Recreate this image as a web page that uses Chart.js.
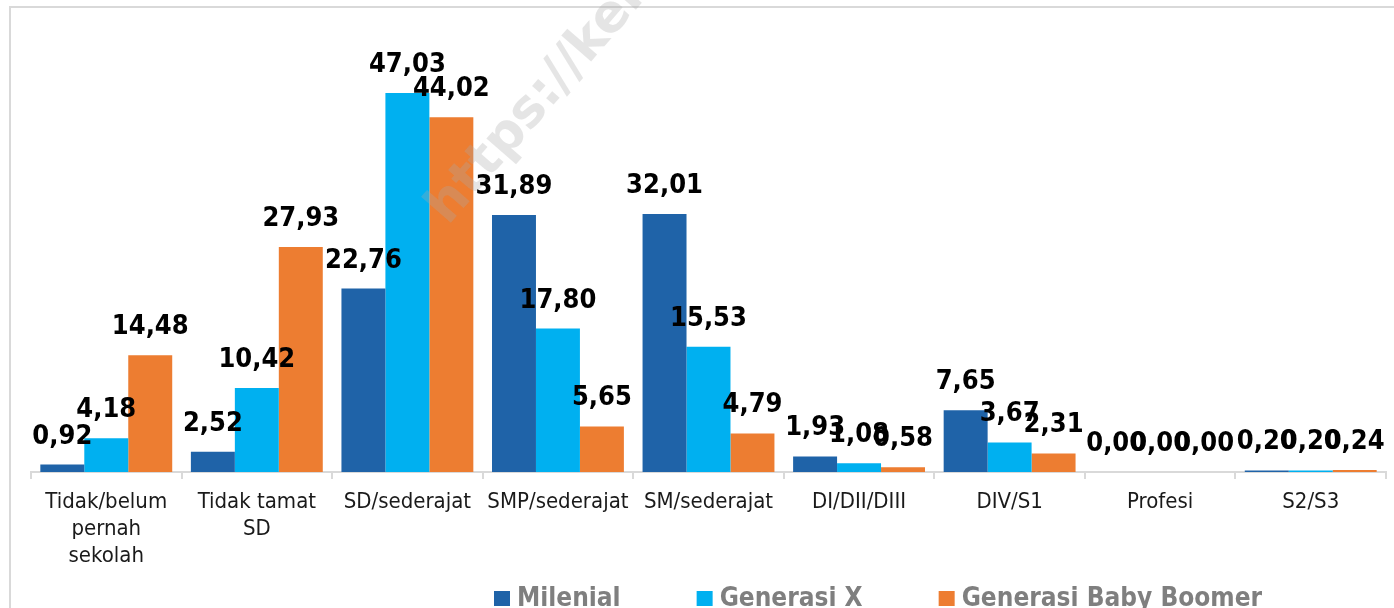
<!DOCTYPE html>
<html>
<head>
<meta charset="utf-8">
<script src="https://cdn.jsdelivr.net/npm/chart.js@4.4.1/dist/chart.umd.min.js"></script>
<style>
  body { margin: 0; background: #fff; }
  #wrap { width: 1394px; height: 608px; position: relative; }
</style>
</head>
<body>
<div id="wrap"><canvas id="eduChart"></canvas></div>
<script>
// categories and values (persen)
const categories = [['Tidak/belum', 'pernah', 'sekolah'], ['Tidak tamat', 'SD'], 'SD/sederajat', 'SMP/sederajat',
  'SM/sederajat', 'DI/DII/DIII', 'DIV/S1', 'Profesi', 'S2/S3'];
const milenial = [0.92, 2.52, 22.76, 31.89, 32.01, 1.93, 7.65, 0.00, 0.20];
const generasiX = [4.18, 10.42, 47.03, 17.80, 15.53, 1.08, 3.67, 0.00, 0.20];
const babyBoomer = [14.48, 27.93, 44.02, 5.65, 4.79, 0.58, 2.31, 0.00, 0.24];
const seriesNames = ['Milenial', 'Generasi X', 'Generasi Baby Boomer'];
const seriesColors = ['#1F63A8', '#00B0F0', '#ED7D31'];

const fontFamily = '"DejaVu Sans Condensed", "DejaVu Sans", sans-serif';

function fmt(v) {
    return v.toFixed(2).replace('.', ',');
}

// light frame round the chart, like the exported picture
const framePlugin = {
    id: 'frame',
    beforeDraw(chart) {
        const ctx = chart.ctx;
        ctx.save();
        ctx.fillStyle = '#fff';
        ctx.fillRect(0, 0, chart.width, chart.height);
        ctx.strokeStyle = '#D9D9D9';
        ctx.lineWidth = 2;
        ctx.strokeRect(10, 7, chart.width + 20, chart.height + 20);
        ctx.restore();
    }
};

// watermark and value labels over the bars
const labelPlugin = {
    id: 'valueLabels',
    afterDatasetsDraw(chart) {
        const ctx = chart.ctx;

        ctx.save();
        ctx.translate(448, 226);
        ctx.rotate(-49 * Math.PI / 180);
        ctx.font = 'bold 52px "DejaVu Sans", sans-serif';
        ctx.fillStyle = 'rgba(170, 170, 170, 0.3)';
        ctx.textBaseline = 'alphabetic';
        ctx.fillText('https://kerincikab.bps.go.id', 0, 0);
        ctx.restore();

        ctx.save();
        ctx.font = 'bold 27px ' + fontFamily;
        ctx.fillStyle = '#000';
        ctx.textAlign = 'center';
        ctx.textBaseline = 'alphabetic';
        chart.data.datasets.forEach((ds, i) => {
            const meta = chart.getDatasetMeta(i);
            meta.data.forEach((bar, j) => {
                ctx.fillText(fmt(ds.data[j]), bar.x, bar.y - 21);
            });
        });
        ctx.restore();
    }
};

// legend along the bottom
const legendPlugin = {
    id: 'bottomLegend',
    afterDraw(chart) {
        const ctx = chart.ctx;
        ctx.save();
        ctx.font = 'bold 26px ' + fontFamily;
        ctx.textBaseline = 'alphabetic';
        ctx.textAlign = 'left';
        let x = 494;
        chart.data.datasets.forEach((ds) => {
            ctx.fillStyle = ds.backgroundColor;
            ctx.fillRect(x, 591, 16, 15);
            ctx.fillStyle = '#7F7F7F';
            ctx.fillText(ds.label, x + 23, 606);
            x += 23 + ctx.measureText(ds.label).width + 76;
        });
        ctx.restore();
    }
};

const ctx = document.getElementById('eduChart');

new Chart(ctx, {
    type: 'bar',
    data: {
        labels: categories,
        datasets: [
            { label: seriesNames[0], data: milenial, backgroundColor: seriesColors[0] },
            { label: seriesNames[1], data: generasiX, backgroundColor: seriesColors[1] },
            { label: seriesNames[2], data: babyBoomer, backgroundColor: seriesColors[2] }
        ]
    },
    options: {
        responsive: true,
        maintainAspectRatio: false,
        animation: false,
        categoryPercentage: 0.876,
        barPercentage: 1,
        layout: {
            padding: { top: 69, left: 31, right: 8, bottom: 0 }
        },
        plugins: {
            legend: { display: false },
            tooltip: { enabled: false }
        },
        scales: {
            x: {
                grid: {
                    offset: true,
                    drawOnChartArea: false,
                    drawTicks: true,
                    tickLength: 7,
                    color: '#D9D9D9',
                    lineWidth: 2
                },
                border: { display: true, color: '#D9D9D9', width: 2 },
                ticks: {
                    color: '#1a1a1a',
                    font: { family: fontFamily, size: 22, lineHeight: 1.22 },
                    padding: 10,
                    maxRotation: 0,
                    autoSkip: false
                },
                afterFit(scale) {
                    scale.height = 136;
                }
            },
            y: {
                display: false,
                min: 0,
                max: 50
            }
        }
    },
    plugins: [framePlugin, labelPlugin, legendPlugin]
});
</script>
</body>
</html>
